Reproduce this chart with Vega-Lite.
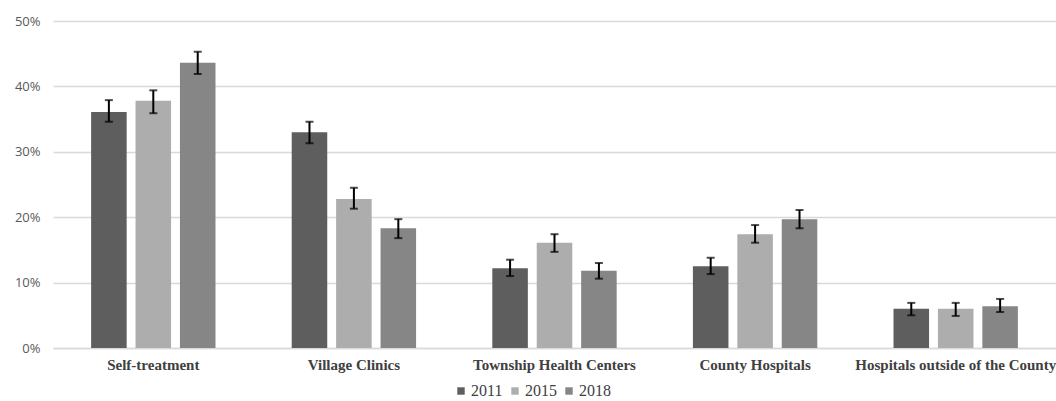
{
  "$schema": "https://vega.github.io/schema/vega-lite/v6.json",
  "autosize": {"type": "none"},
  "padding": {"left": 53, "top": 21, "right": 0, "bottom": 53},
  "width": 1003,
  "height": 327,
  "background": "white",
  "data": {
    "values": [
      {"cat": "Self-treatment", "year": "2011", "v": 0.361, "lo": 0.346, "hi": 0.379},
      {"cat": "Self-treatment", "year": "2015", "v": 0.378, "lo": 0.359, "hi": 0.394},
      {"cat": "Self-treatment", "year": "2018", "v": 0.436, "lo": 0.419, "hi": 0.453},
      {"cat": "Village Clinics", "year": "2011", "v": 0.330, "lo": 0.313, "hi": 0.346},
      {"cat": "Village Clinics", "year": "2015", "v": 0.228, "lo": 0.213, "hi": 0.245},
      {"cat": "Village Clinics", "year": "2018", "v": 0.183, "lo": 0.168, "hi": 0.197},
      {"cat": "Township Health Centers", "year": "2011", "v": 0.122, "lo": 0.110, "hi": 0.135},
      {"cat": "Township Health Centers", "year": "2015", "v": 0.161, "lo": 0.147, "hi": 0.174},
      {"cat": "Township Health Centers", "year": "2018", "v": 0.118, "lo": 0.106, "hi": 0.130},
      {"cat": "County Hospitals", "year": "2011", "v": 0.125, "lo": 0.113, "hi": 0.138},
      {"cat": "County Hospitals", "year": "2015", "v": 0.174, "lo": 0.161, "hi": 0.188},
      {"cat": "County Hospitals", "year": "2018", "v": 0.197, "lo": 0.183, "hi": 0.211},
      {"cat": "Hospitals outside of the County", "year": "2011", "v": 0.060, "lo": 0.050, "hi": 0.069},
      {"cat": "Hospitals outside of the County", "year": "2015", "v": 0.060, "lo": 0.049, "hi": 0.069},
      {"cat": "Hospitals outside of the County", "year": "2018", "v": 0.064, "lo": 0.055, "hi": 0.075}
    ]
  },
  "encoding": {
    "x": {
      "field": "cat", "type": "nominal", "sort": null,
      "scale": {"paddingInner": 0.38, "paddingOuter": 0.19},
      "axis": {
        "title": null, "labelAngle": 0, "ticks": false, "domain": true,
        "domainColor": "#d9d9d9", "domainWidth": 1.5,
        "labelFont": "Liberation Serif", "labelFontWeight": "bold",
        "labelFontSize": 15, "labelColor": "#404040", "labelPadding": 9,
        "labelLimit": 0, "labelOverlap": false, "labelBound": false
      }
    },
    "xOffset": {"field": "year", "type": "nominal", "scale": {"paddingInner": 0.2}}
  },
  "layer": [
    {
      "mark": {"type": "bar"},
      "encoding": {
        "y": {
          "field": "v", "type": "quantitative",
          "scale": {"domain": [0, 0.5], "nice": false},
          "axis": {
            "title": null, "values": [0, 0.1, 0.2, 0.3, 0.4, 0.5], "format": ".0%",
            "domain": false, "ticks": false, "gridColor": "#d9d9d9", "gridWidth": 1.5,
            "labelFont": "Open Sans", "labelFontSize": 13, "labelColor": "#595959",
            "labelPadding": 13
          }
        },
        "color": {
          "field": "year", "type": "nominal",
          "scale": {"domain": ["2011", "2015", "2018"], "range": ["#5e5e5e", "#adadad", "#868686"]},
          "legend": {
            "title": null, "orient": "none", "direction": "horizontal",
            "legendX": 400, "legendY": 362,
            "symbolType": "square", "symbolSize": 55, "symbolStrokeWidth": 0,
            "symbolOpacity": 1,
            "labelFont": "Liberation Serif", "labelFontSize": 16, "labelColor": "#404040",
            "labelOffset": 2, "columnPadding": 4
          }
        }
      }
    },
    {
      "mark": {"type": "rule", "color": "black", "strokeWidth": 2},
      "encoding": {
        "y": {"field": "lo", "type": "quantitative"},
        "y2": {"field": "hi"}
      }
    },
    {
      "mark": {"type": "tick", "color": "black", "thickness": 2, "size": 8},
      "encoding": {"y": {"field": "lo", "type": "quantitative"}}
    },
    {
      "mark": {"type": "tick", "color": "black", "thickness": 2, "size": 8},
      "encoding": {"y": {"field": "hi", "type": "quantitative"}}
    }
  ],
  "config": {"view": {"stroke": null}}
}
